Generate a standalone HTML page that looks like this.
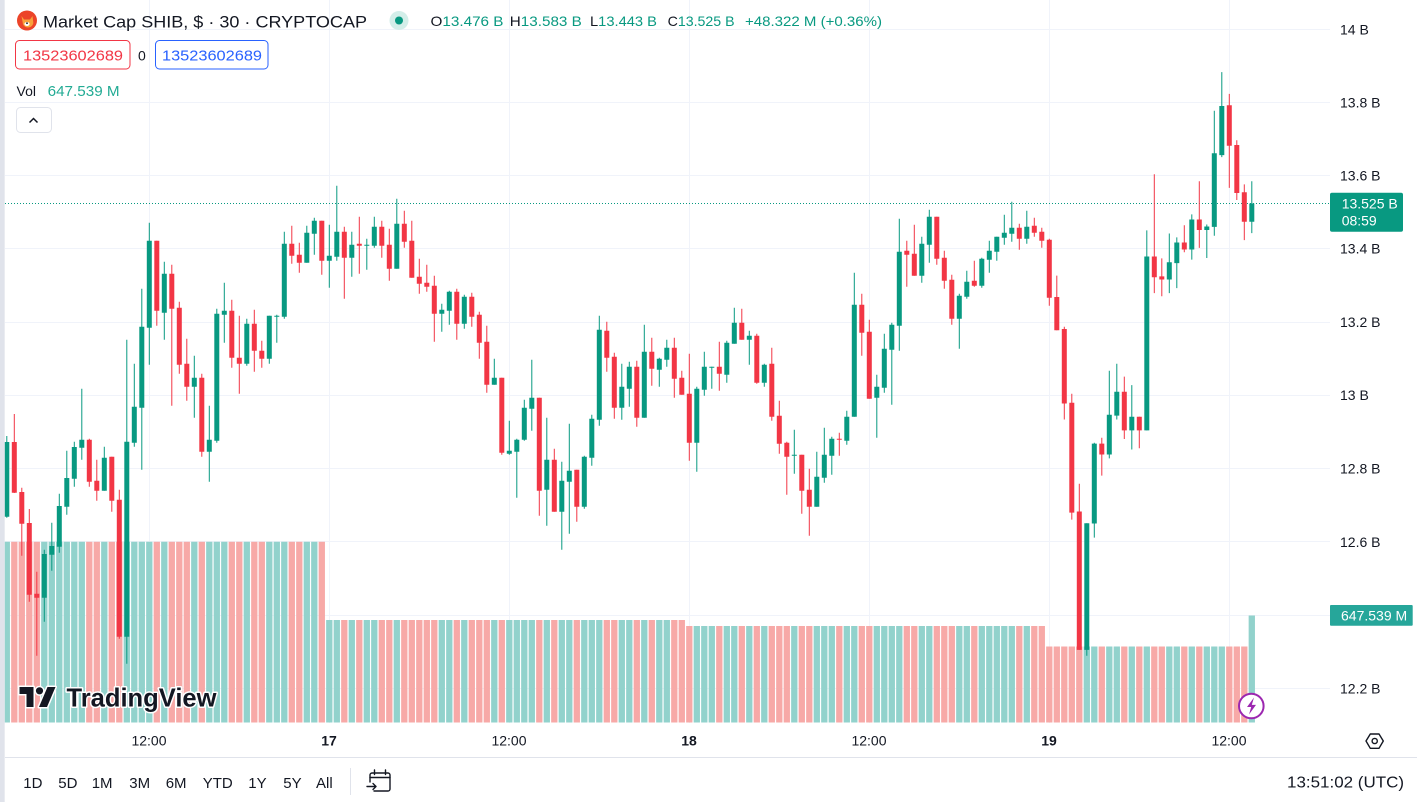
<!DOCTYPE html>
<html><head><meta charset="utf-8"><style>
html,body{margin:0;padding:0;background:#fff;width:1417px;height:802px;overflow:hidden}
svg{display:block;font-family:"Liberation Sans",sans-serif}
</style></head><body>
<svg width="1417" height="802" viewBox="0 0 1417 802" xmlns="http://www.w3.org/2000/svg">
<defs><clipPath id="cp"><rect x="4.7" y="0" width="1325.3" height="723"/></clipPath></defs>
<rect width="1417" height="802" fill="#fff"/>
<!-- grid -->
<g stroke="#F0F3FA" stroke-width="1">
<path d="M5 29.5H1330M5 102.5H1330M5 175.5H1330M5 248.5H1330M5 322.5H1330M5 395.5H1330M5 468.5H1330M5 541.5H1330M5 615.5H1330M5 688.5H1330"/>
<path d="M149.5 0V723M329.5 0V723M509.5 0V723M689.5 0V723M869.5 0V723M1049.5 0V723M1229.5 0V723"/>
</g>
<g clip-path="url(#cp)">
<!-- volume teal -->
<path fill="none" stroke="#92D2CC" stroke-width="6.3" d="M6.8 541.7V722.5M44.3 541.7V722.5M51.8 541.7V722.5M59.3 541.7V722.5M66.8 541.7V722.5M74.3 541.7V722.5M81.8 541.7V722.5M104.3 541.7V722.5M126.8 541.7V722.5M134.3 541.7V722.5M141.8 541.7V722.5M149.3 541.7V722.5M164.3 541.7V722.5M194.3 541.7V722.5M209.3 541.7V722.5M216.8 541.7V722.5M224.3 541.7V722.5M246.8 541.7V722.5M269.3 541.7V722.5M276.8 541.7V722.5M284.3 541.7V722.5M306.8 541.7V722.5M314.3 541.7V722.5
M329.3 620V722.5M336.8 620V722.5M351.8 620V722.5M366.8 620V722.5M374.3 620V722.5M396.8 620V722.5M441.8 620V722.5M449.3 620V722.5M464.3 620V722.5M494.3 620V722.5M509.3 620V722.5M516.8 620V722.5M524.3 620V722.5M531.8 620V722.5M546.8 620V722.5M561.8 620V722.5M569.3 620V722.5M584.3 620V722.5M591.8 620V722.5M599.3 620V722.5M621.8 620V722.5M629.3 620V722.5M644.3 620V722.5M659.3 620V722.5M666.8 620V722.5
M696.8 626V722.5M704.3 626V722.5M711.8 626V722.5M726.8 626V722.5M734.3 626V722.5M749.3 626V722.5M764.3 626V722.5M794.3 626V722.5M816.8 626V722.5M824.3 626V722.5M831.8 626V722.5M846.8 626V722.5M854.3 626V722.5M876.8 626V722.5M884.3 626V722.5M891.8 626V722.5M899.3 626V722.5M921.8 626V722.5M929.3 626V722.5M959.3 626V722.5M966.8 626V722.5M981.8 626V722.5M989.3 626V722.5M996.8 626V722.5M1004.3 626V722.5M1011.8 626V722.5M1026.8 626V722.5
M1086.8 646.5V722.5M1094.3 646.5V722.5M1109.3 646.5V722.5M1116.8 646.5V722.5M1131.8 646.5V722.5M1146.8 646.5V722.5M1169.3 646.5V722.5M1176.8 646.5V722.5M1191.8 646.5V722.5M1206.8 646.5V722.5M1214.3 646.5V722.5M1221.8 646.5V722.5M1251.8 615.5V722.5"/>
<!-- volume pink -->
<path fill="none" stroke="#F7A9A7" stroke-width="6.3" d="M14.3 541.7V722.5M21.8 541.7V722.5M29.3 541.7V722.5M36.8 541.7V722.5M89.3 541.7V722.5M96.8 541.7V722.5M111.8 541.7V722.5M119.3 541.7V722.5M156.8 541.7V722.5M171.8 541.7V722.5M179.3 541.7V722.5M186.8 541.7V722.5M201.8 541.7V722.5M231.8 541.7V722.5M239.3 541.7V722.5M254.3 541.7V722.5M261.8 541.7V722.5M291.8 541.7V722.5M299.3 541.7V722.5M321.8 541.7V722.5
M344.3 620V722.5M359.3 620V722.5M381.8 620V722.5M389.3 620V722.5M404.3 620V722.5M411.8 620V722.5M419.3 620V722.5M426.8 620V722.5M434.3 620V722.5M456.8 620V722.5M471.8 620V722.5M479.3 620V722.5M486.8 620V722.5M501.8 620V722.5M539.3 620V722.5M554.3 620V722.5M576.8 620V722.5M606.8 620V722.5M614.3 620V722.5M636.8 620V722.5M651.8 620V722.5M674.3 620V722.5M681.8 620V722.5
M689.3 626V722.5M719.3 626V722.5M741.8 626V722.5M756.8 626V722.5M771.8 626V722.5M779.3 626V722.5M786.8 626V722.5M801.8 626V722.5M809.3 626V722.5M839.3 626V722.5M861.8 626V722.5M869.3 626V722.5M906.8 626V722.5M914.3 626V722.5M936.8 626V722.5M944.3 626V722.5M951.8 626V722.5M974.3 626V722.5M1019.3 626V722.5M1034.3 626V722.5M1041.8 626V722.5
M1049.3 646.5V722.5M1056.8 646.5V722.5M1064.3 646.5V722.5M1071.8 646.5V722.5M1079.3 646.5V722.5M1101.8 646.5V722.5M1124.3 646.5V722.5M1139.3 646.5V722.5M1154.3 646.5V722.5M1161.8 646.5V722.5M1184.3 646.5V722.5M1199.3 646.5V722.5M1229.3 646.5V722.5M1236.8 646.5V722.5M1244.3 646.5V722.5"/>
<!-- price line -->
<path d="M5 203.5H1330" stroke="#089981" stroke-width="1" stroke-dasharray="1 2"/>
<!-- green candles -->
<path fill="none" stroke="#089981" stroke-width="1" d="M6.8 436V517.7M44.3 549.7V621.7M51.8 522.7V570.7M59.3 493.7V552.7M66.8 450.7V514.7M74.3 441.7V486.7M81.8 388.7V459.7M104.3 446.7V490.7M126.8 339.7V663.7M134.3 363.7V446.7M141.8 288.7V469.7M149.3 222.7V364.7M164.3 261.7V339.7M194.3 355.7V417.7M209.3 405.7V481.7M216.8 308.7V442.7M224.3 282.7V342.7M246.8 318.7V365.7M269.3 315.7V363.7M276.8 314.7V342.7M284.3 231.7V318.7M306.8 225.7V262.7M314.3 217.7V254.7M329.3 224.7V287.7M336.8 185.7V260.7M351.8 231.7V276.7M366.8 238.7V269.7M374.3 216.7V247.7M396.8 198.7V268.7M441.8 303.7V331.7M449.3 290.7V324.7M464.3 294.7V328.7M494.3 358.7V384.7M509.3 420.7V454.7M516.8 438.7V497.7M524.3 399.7V440.7M531.8 359.7V430.7M546.8 417.7V525.7M561.8 461.7V549.7M569.3 423.7V533.7M584.3 455.7V508.7M591.8 414.7V465.7M599.3 315.7V425.7M621.8 363.7V419.7M629.3 361.7V406.7M644.3 324.7V417.7M659.3 357.7V386.7M666.8 339.7V366.7M696.8 386.7V471.7M704.3 351.7V395.7M711.8 366.7V388.7M726.8 340.7V382.7M734.3 307.7V343.7M749.3 330.7V364.7M764.3 363.7V386.7M794.3 429.7V473.7M816.8 451.7V506.7M824.3 427.7V482.7M831.8 436.7V474.7M846.8 410.7V444.7M854.3 272.7V416.7M876.8 374.7V437.7M884.3 333.7V392.7M891.8 322.7V404.7M899.3 218.7V350.7M921.8 236.7V282.7M929.3 209.7V262.7M959.3 293.7V348.7M966.8 270.7V298.7M981.8 257.7V287.7M989.3 240.7V272.7M996.8 236.7V260.7M1004.3 214.7V244.7M1011.8 201.7V241.7M1026.8 210.7V243.7M1086.8 523.2V655.7M1094.3 442.8V537.6M1109.3 370.7V458.4M1116.8 363.7V419.5M1131.8 385.1V449.5M1146.8 230.4V430.4M1169.3 233.5V293.1M1176.8 237.4V288.1M1191.8 214.4V259.6M1206.8 224.5V258M1214.3 110.7V235.8M1221.8 72.1V157.1M1251.8 181.2V233.1"/>
<path fill="none" stroke="#089981" stroke-width="5" d="M6.8 442V516.7M44.3 554V597.7M51.8 546V554.7M59.3 506V546.7M66.8 478V506.7M74.3 447V478.7M81.8 439.7V447.7M104.3 457.7V490.7M126.8 441.7V636.7M134.3 406.7V442.7M141.8 326.7V407.7M149.3 240.7V327.7M164.3 273.7V312.7M194.3 377.7V386.7M209.3 439.7V451.7M216.8 313.7V440.7M224.3 310.7V314.7M246.8 323.7V363.7M269.3 315.7V358.7M276.8 315.7V316.7M284.3 243.7V316.7M306.8 232.7V262.7M314.3 220.7V233.7M329.3 255.7V260.7M336.8 231.7V256.7M351.8 244.7V257.7M366.8 244.7V245.7M374.3 226.7V245.7M396.8 223.7V268.7M441.8 309.7V313.7M449.3 291.7V310.7M464.3 296.7V323.7M494.3 377.7V384.7M509.3 450.7V453.7M516.8 439.7V451.7M524.3 407.7V439.7M531.8 397.7V408.7M546.8 459.7V489.7M561.8 480.7V511.7M569.3 470.7V481.7M584.3 456.7V506.7M591.8 418.7V457.7M599.3 329.7V419.7M621.8 386.7V407.7M629.3 366.7V388.7M644.3 351.7V417.7M659.3 358.7V369.7M666.8 347.7V359.7M696.8 388.7V442.7M704.3 366.7V389.7M711.8 366.7V367.7M726.8 342.7V374.7M734.3 322.7V343.7M749.3 335.7V339.7M764.3 364.7V382.7M794.3 454.7V455.7M816.8 476.7V506.7M824.3 454.7V477.7M831.8 438.7V455.7M846.8 416.7V440.7M854.3 304.7V416.7M876.8 386.7V397.7M884.3 348.7V387.7M891.8 324.7V349.7M899.3 251.7V325.7M921.8 243.7V275.7M929.3 216.7V244.7M959.3 295.7V318.7M966.8 281.7V296.7M981.8 258.7V285.7M989.3 250.7V259.7M996.8 236.7V251.7M1004.3 232.7V237.7M1011.8 227.7V233.7M1026.8 226.7V238.7M1086.8 523.2V649.9M1094.3 443.6V523.5M1109.3 414.8V454.5M1116.8 391.8V415.6M1131.8 416.7V430.4M1146.8 256.5V430.4M1169.3 262.3V279.5M1176.8 242.5V263.1M1191.8 219.5V249.5M1206.8 226.5V230M1214.3 153.2V226.9M1221.8 106V155.1M1251.8 203.5V221.8"/>
<!-- red candles -->
<path fill="none" stroke="#F23645" stroke-width="1" d="M14.3 414V493M21.8 487.7V555.7M29.3 509V601.7M36.8 571.7V655.7M89.3 438.7V486.7M96.8 459.7V500.7M111.8 456.7V511.7M119.3 489.7V638.7M156.8 240.7V325.7M171.8 264.7V405.7M179.3 301.7V373.7M186.8 338.7V400.7M201.8 373.7V456.7M231.8 299.7V367.7M239.3 315.7V393.7M254.3 309.7V371.7M261.8 340.7V367.7M291.8 225.7V263.7M299.3 242.7V272.7M321.8 220.7V274.7M344.3 226.7V298.7M359.3 216.7V273.7M381.8 220.7V257.7M389.3 228.7V280.7M404.3 210.7V247.7M411.8 220.7V277.7M419.3 258.7V293.7M426.8 264.7V291.7M434.3 275.7V341.7M456.8 288.7V339.7M471.8 292.7V326.7M479.3 311.7V358.7M486.8 325.7V392.7M501.8 377.7V454.7M539.3 397.7V515.7M554.3 448.7V511.7M576.8 469.7V521.7M606.8 321.7V371.7M614.3 352.7V418.7M636.8 360.7V426.7M651.8 337.7V385.7M674.3 337.7V397.7M681.8 370.7V394.7M689.3 353.7V460.7M719.3 341.7V390.7M741.8 308.7V339.7M756.8 333.7V383.7M771.8 347.7V420.7M779.3 400.7V453.7M786.8 441.7V494.7M801.8 454.7V513.7M809.3 468.7V535.7M839.3 432.7V455.7M861.8 293.7V355.7M869.3 319.7V398.7M906.8 240.7V286.7M914.3 224.7V275.7M936.8 216.7V264.7M944.3 250.7V288.7M951.8 274.7V324.7M974.3 260.7V286.7M1019.3 223.7V249.7M1034.3 217.7V236.7M1041.8 227.7V247.7M1049.3 238.7V305.7M1056.8 275.6V330.2M1064.3 326.7V419.5M1071.8 393.7V519.6M1079.3 483.8V649.9M1101.8 437.8V475.6M1124.3 376.6V439M1139.3 416.7V448.3M1154.3 174.2V293.1M1161.8 258.4V296.3M1184.3 225.3V252.2M1199.3 181.2V247.9M1229.3 93.9V187.9M1236.8 140.3V200M1244.3 184.4V240.1"/>
<path fill="none" stroke="#F23645" stroke-width="5" d="M14.3 442V492.7M21.8 492V523.7M29.3 523V594.7M36.8 593.7V597.7M89.3 439.7V481.7M96.8 480.7V490.7M111.8 456.7V500.7M119.3 499.7V636.7M156.8 240.7V310.7M171.8 273.7V308.7M179.3 307.7V364.7M186.8 363.7V386.7M201.8 377.7V451.7M231.8 310.7V357.7M239.3 357.7V363.7M254.3 323.7V350.7M261.8 350.7V358.7M291.8 243.7V255.7M299.3 254.7V262.7M321.8 220.7V260.7M344.3 231.7V257.7M359.3 243.7V245.7M381.8 226.7V245.7M389.3 244.7V268.7M404.3 223.7V241.7M411.8 240.7V277.7M419.3 276.7V283.7M426.8 282.7V286.7M434.3 285.7V313.7M456.8 291.7V323.7M471.8 296.7V316.7M479.3 314.7V342.7M486.8 341.7V384.7M501.8 377.7V452.7M539.3 397.7V490.7M554.3 459.7V511.7M576.8 469.7V506.7M606.8 330.7V357.7M614.3 356.7V407.7M636.8 366.7V417.7M651.8 351.7V368.7M674.3 347.7V378.7M681.8 377.7V394.7M689.3 393.7V442.7M719.3 366.7V373.7M741.8 322.7V339.7M756.8 335.7V382.7M771.8 363.7V416.7M779.3 415.7V443.7M786.8 442.7V456.7M801.8 454.7V490.7M809.3 489.7V506.7M839.3 438.7V439.7M861.8 304.7V332.7M869.3 331.7V398.7M906.8 250.7V254.7M914.3 253.7V275.7M936.8 216.7V258.7M944.3 257.7V280.7M951.8 279.7V318.7M974.3 280.7V285.7M1019.3 227.7V238.7M1034.3 225.7V232.7M1041.8 231.7V240.7M1049.3 239.7V297.7M1056.8 297V330.2M1064.3 329V403.5M1071.8 402.7V512.6M1079.3 511.5V649.9M1101.8 443.6V454.5M1124.3 391.8V430.4M1139.3 416.7V430.4M1154.3 256.5V277.2M1161.8 276.4V279.5M1184.3 242.5V249.5M1199.3 219.5V230M1229.3 105.2V145.8M1236.8 145V193M1244.3 192.2V221.8"/>
</g>
<!-- watermark -->
<g fill="#131722" stroke="#fff" stroke-width="3" paint-order="stroke" stroke-linejoin="round">
<path d="M19.5 687h14v20h-7v-13h-7z"/>
<circle cx="39.5" cy="690.8" r="3.6"/>
<path d="M47.5 687h8l-8.5 20h-8z"/>
<text x="66.5" y="706.5" font-size="26" font-weight="bold" textLength="150" lengthAdjust="spacingAndGlyphs">TradingView</text>
</g>
<!-- lightning -->
<circle cx="1251.3" cy="706" r="12.3" fill="#fff" stroke="#9C27B0" stroke-width="2"/>
<path d="M1254 697.5l-7 9.5h4.2l-2.2 7.5 7-9.6h-4.2z" fill="#9C27B0"/>
<!-- left strip -->
<rect x="0" y="0" width="4.7" height="802" fill="#E0E3EB"/>
<!-- header -->
<circle cx="27" cy="20.5" r="10" fill="#EC4429"/>
<path d="M21.5 16l2.5 3.5h6l2.5-3.5 0.8 6.5c0 3-2.8 5-5.3 5s-5.3-2-5.3-5z" fill="#F9A23B"/>
<ellipse cx="27" cy="24" rx="2.6" ry="2" fill="#fff"/>
<circle cx="27" cy="23.2" r="0.9" fill="#131722"/>
<text x="43" y="27.5" font-size="17" fill="#131722" textLength="324" lengthAdjust="spacingAndGlyphs">Market Cap SHIB, $ · 30 · CRYPTOCAP</text>
<circle cx="399" cy="20.5" r="9.5" fill="#D3EEE9"/>
<circle cx="399" cy="20.5" r="4" fill="#089981"/>
<g font-size="14" fill="#089981">
<text x="430.5" y="26" textLength="73" lengthAdjust="spacingAndGlyphs"><tspan fill="#131722">O</tspan>13.476 B</text>
<text x="509.8" y="26" textLength="72" lengthAdjust="spacingAndGlyphs"><tspan fill="#131722">H</tspan>13.583 B</text>
<text x="590" y="26" textLength="67" lengthAdjust="spacingAndGlyphs"><tspan fill="#131722">L</tspan>13.443 B</text>
<text x="667.6" y="26" textLength="67" lengthAdjust="spacingAndGlyphs"><tspan fill="#131722">C</tspan>13.525 B</text>
<text x="745" y="26" textLength="137" lengthAdjust="spacingAndGlyphs">+48.322 M (+0.36%)</text>
</g>
<rect x="15.5" y="40.5" width="114.5" height="28.5" rx="4" fill="#fff" stroke="#F23645"/>
<text x="23" y="60.5" font-size="15" fill="#F23645" textLength="100" lengthAdjust="spacingAndGlyphs">13523602689</text>
<text x="138" y="60.5" font-size="14" fill="#131722">0</text>
<rect x="155.5" y="40.5" width="112.5" height="28.5" rx="4" fill="#fff" stroke="#2962FF"/>
<text x="162" y="60.5" font-size="15" fill="#2962FF" textLength="100" lengthAdjust="spacingAndGlyphs">13523602689</text>
<text x="16.5" y="96" font-size="14" fill="#131722">Vol</text>
<text x="47.6" y="96" font-size="15" fill="#22AB94" textLength="72" lengthAdjust="spacingAndGlyphs">647.539 M</text>
<rect x="16.5" y="107.5" width="35" height="25" rx="4" fill="#fff" stroke="#E0E3EB"/>
<path d="M29.5 122.5l4-4 4 4" fill="none" stroke="#131722" stroke-width="1.5"/>
<!-- price axis -->
<g font-size="14" fill="#131722">
<text x="1340" y="34.5">14 B</text>
<text x="1340" y="107.5">13.8 B</text>
<text x="1340" y="180.5">13.6 B</text>
<text x="1340" y="253.5">13.4 B</text>
<text x="1340" y="327">13.2 B</text>
<text x="1340" y="400">13 B</text>
<text x="1340" y="473.5">12.8 B</text>
<text x="1340" y="547">12.6 B</text>
<text x="1340" y="693.5">12.2 B</text>
</g>
<rect x="1330" y="192.7" width="73" height="39" rx="2" fill="#089981"/>
<text x="1341.7" y="208.5" font-size="14" fill="#fff">13.525 B</text>
<text x="1341.7" y="225.5" font-size="14" fill="#fff">08:59</text>
<rect x="1330" y="605" width="82.7" height="20.7" rx="1" fill="#26A69A"/>
<text x="1341" y="620.3" font-size="14" fill="#fff">647.539 M</text>
<!-- time axis -->
<g font-size="14" fill="#131722" text-anchor="middle">
<text x="149" y="745.7">12:00</text>
<text x="329" y="745.7" font-weight="bold">17</text>
<text x="509" y="745.7">12:00</text>
<text x="689" y="745.7" font-weight="bold">18</text>
<text x="869" y="745.7">12:00</text>
<text x="1049" y="745.7" font-weight="bold">19</text>
<text x="1229" y="745.7">12:00</text>
</g>
<path d="M1366 741l4.3-7h8.7l4.3 7-4.3 7.3h-8.7z" fill="none" stroke="#131722" stroke-width="1.4" stroke-linejoin="round"/>
<circle cx="1374.7" cy="741" r="2.6" fill="none" stroke="#131722" stroke-width="1.4"/>
<!-- bottom toolbar -->
<path d="M5 757.5H1417" stroke="#E0E3EB"/>
<g font-size="15" fill="#131722">
<text x="23.3" y="788">1D</text>
<text x="58.3" y="788">5D</text>
<text x="91.7" y="788">1M</text>
<text x="129.3" y="788">3M</text>
<text x="165.7" y="788">6M</text>
<text x="202.7" y="788">YTD</text>
<text x="248.3" y="788">1Y</text>
<text x="283.3" y="788">5Y</text>
<text x="316" y="788">All</text>
</g>
<path d="M350.5 768V795" stroke="#E0E3EB"/>
<g fill="none" stroke="#131722" stroke-width="1.4" stroke-linecap="round" stroke-linejoin="round">
<path d="M370 782V775a2 2 0 0 1 2-2h16a2 2 0 0 1 2 2v14a2 2 0 0 1-2 2h-14"/>
<path d="M370 777.5h20M374.5 770v4.5M385.5 770v4.5"/>
<path d="M367 786.5h9M373 783.5l3 3-3 3"/>
</g>
<text x="1287" y="787.5" font-size="16" fill="#131722" textLength="117" lengthAdjust="spacingAndGlyphs">13:51:02 (UTC)</text>
</svg>
</body></html>
